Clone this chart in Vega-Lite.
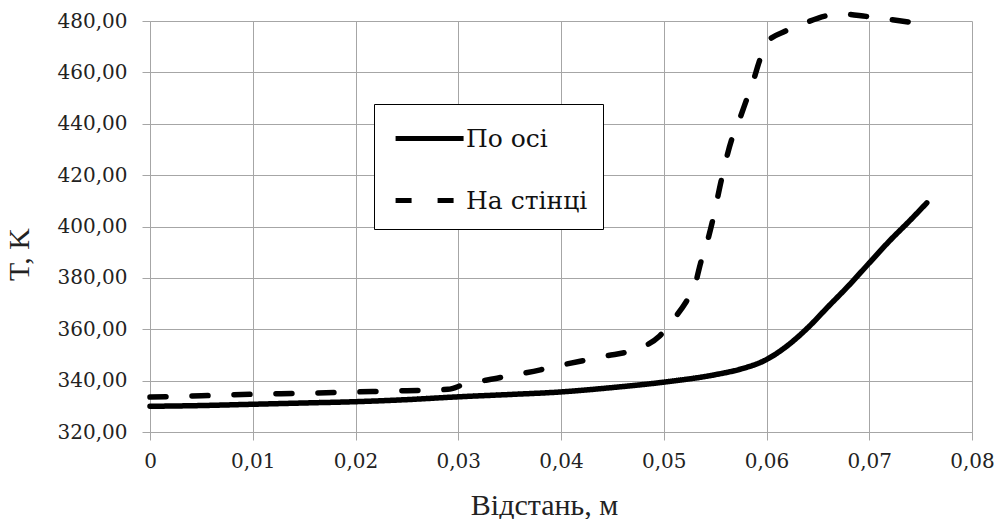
{
  "$schema": "https://vega.github.io/schema/vega-lite/v6.json",
  "width": 822,
  "height": 411,
  "autosize": "none",
  "padding": {"left": 150, "top": 21, "right": 24, "bottom": 87},
  "background": "white",
  "config": {
    "view": {"stroke": null},
    "axis": {
      "labelFontSize": 20,
      "titleFontSize": 30,
      "labelColor": "#222",
      "titleColor": "#222",
      "titleFontWeight": "normal",
      "gridColor": "#a6a6a6",
      "gridWidth": 1,
      "domainColor": "#a6a6a6",
      "tickColor": "#a6a6a6",
      "tickSize": 8,
      "gridOpacity": 1
    }
  },
  "data": {
    "values": [
      {"x": 0, "T": 330.0, "s": "По осі"},
      {"x": 0.005, "T": 330.3, "s": "По осі"},
      {"x": 0.01, "T": 330.8, "s": "По осі"},
      {"x": 0.015, "T": 331.3, "s": "По осі"},
      {"x": 0.02, "T": 331.8, "s": "По осі"},
      {"x": 0.025, "T": 332.6, "s": "По осі"},
      {"x": 0.03, "T": 333.7, "s": "По осі"},
      {"x": 0.035, "T": 334.6, "s": "По осі"},
      {"x": 0.04, "T": 335.6, "s": "По осі"},
      {"x": 0.045, "T": 337.3, "s": "По осі"},
      {"x": 0.05, "T": 339.4, "s": "По осі"},
      {"x": 0.055, "T": 342.3, "s": "По осі"},
      {"x": 0.0574, "T": 344.4, "s": "По осі"},
      {"x": 0.06, "T": 348.2, "s": "По осі"},
      {"x": 0.062, "T": 353.5, "s": "По осі"},
      {"x": 0.064, "T": 360.5, "s": "По осі"},
      {"x": 0.066, "T": 368.8, "s": "По осі"},
      {"x": 0.068, "T": 377.0, "s": "По осі"},
      {"x": 0.07, "T": 385.8, "s": "По осі"},
      {"x": 0.072, "T": 394.5, "s": "По осі"},
      {"x": 0.074, "T": 402.5, "s": "По осі"},
      {"x": 0.0756, "T": 409.2, "s": "По осі"},
      {"x": 0, "T": 333.6, "s": "На стінці"},
      {"x": 0.005, "T": 334.1, "s": "На стінці"},
      {"x": 0.01, "T": 334.7, "s": "На стінці"},
      {"x": 0.015, "T": 335.1, "s": "На стінці"},
      {"x": 0.02, "T": 335.6, "s": "На стінці"},
      {"x": 0.025, "T": 336.1, "s": "На стінці"},
      {"x": 0.029, "T": 336.6, "s": "На стінці"},
      {"x": 0.0305, "T": 338.4, "s": "На стінці"},
      {"x": 0.034, "T": 341.1, "s": "На стінці"},
      {"x": 0.038, "T": 344.2, "s": "На стінці"},
      {"x": 0.04, "T": 346.0, "s": "На стінці"},
      {"x": 0.044, "T": 349.3, "s": "На стінці"},
      {"x": 0.048, "T": 353.2, "s": "На стінці"},
      {"x": 0.0496, "T": 357.4, "s": "На стінці"},
      {"x": 0.0509, "T": 363.6, "s": "На стінці"},
      {"x": 0.0522, "T": 370.8, "s": "На стінці"},
      {"x": 0.053, "T": 376.6, "s": "На стінці"},
      {"x": 0.0536, "T": 386.0, "s": "На стінці"},
      {"x": 0.0542, "T": 393.5, "s": "На стінці"},
      {"x": 0.0548, "T": 403.0, "s": "На стінці"},
      {"x": 0.0556, "T": 418.0, "s": "На стінці"},
      {"x": 0.0566, "T": 433.7, "s": "На стінці"},
      {"x": 0.0573, "T": 440.9, "s": "На стінці"},
      {"x": 0.058, "T": 448.7, "s": "На стінці"},
      {"x": 0.0587, "T": 456.5, "s": "На стінці"},
      {"x": 0.0593, "T": 464.3, "s": "На стінці"},
      {"x": 0.06, "T": 471.5, "s": "На стінці"},
      {"x": 0.0618, "T": 476.0, "s": "На стінці"},
      {"x": 0.0636, "T": 479.0, "s": "На стінці"},
      {"x": 0.0658, "T": 482.0, "s": "На стінці"},
      {"x": 0.0672, "T": 482.8, "s": "На стінці"},
      {"x": 0.0697, "T": 481.8, "s": "На стінці"},
      {"x": 0.0717, "T": 480.8, "s": "На стінці"},
      {"x": 0.074, "T": 479.5, "s": "На стінці"},
      {"x": 0.0757, "T": 478.6, "s": "На стінці"}
    ]
  },
  "mark": {"type": "line", "color": "black", "strokeWidth": 5.5, "strokeCap": "round", "interpolate": "monotone"},
  "encoding": {
    "x": {
      "field": "x", "type": "quantitative",
      "scale": {"domain": [0, 0.08], "nice": false},
      "axis": {"title": "Відстань,  м", "values": [0, 0.01, 0.02, 0.03, 0.04, 0.05, 0.06, 0.07, 0.08],
        "labelFont": "DejaVu Serif", "titleFont": "'Liberation Serif'",
        "labelExpr": "replace(format(datum.value, '.2~f'), '.', ',')", "labelPadding": 11, "labelFlush": false,
        "titleX": 394, "titleY": 82, "titleBaseline": "alphabetic", "titleAlign": "center"}
    },
    "y": {
      "field": "T", "type": "quantitative",
      "scale": {"domain": [320, 480], "nice": false, "zero": false},
      "axis": {"title": "T, K", "values": [320, 340, 360, 380, 400, 420, 440, 460, 480],
        "labelFont": "DejaVu Serif", "titleFont": "'Liberation Serif'",
        "labelExpr": "replace(format(datum.value, '.2f'), '.', ',')", "labelPadding": 15,
        "titleX": -122, "titleY": 233, "titleBaseline": "alphabetic", "titleAlign": "center", "titleAngle": -90}
    },
    "strokeDash": {
      "field": "s", "type": "nominal",
      "scale": {"domain": ["По осі", "На стінці"], "range": [[1, 0], [16, 26]]},
      "legend": {
        "title": null, "orient": "none", "legendX": 224, "legendY": 83,
        "fillColor": "white", "strokeColor": "black", "padding": 15,
        "symbolType": "M-0.76,0H3.24", "symbolSize": 1156, "symbolStrokeWidth": 5, "symbolStrokeColor": "black",
        "labelFont": "DejaVu Serif", "labelFontSize": 25, "labelColor": "#111", "labelOffset": 38,
        "rowPadding": 29, "labelLimit": 300
      }
    },
    "order": {"field": "x", "type": "quantitative"}
  }
}
